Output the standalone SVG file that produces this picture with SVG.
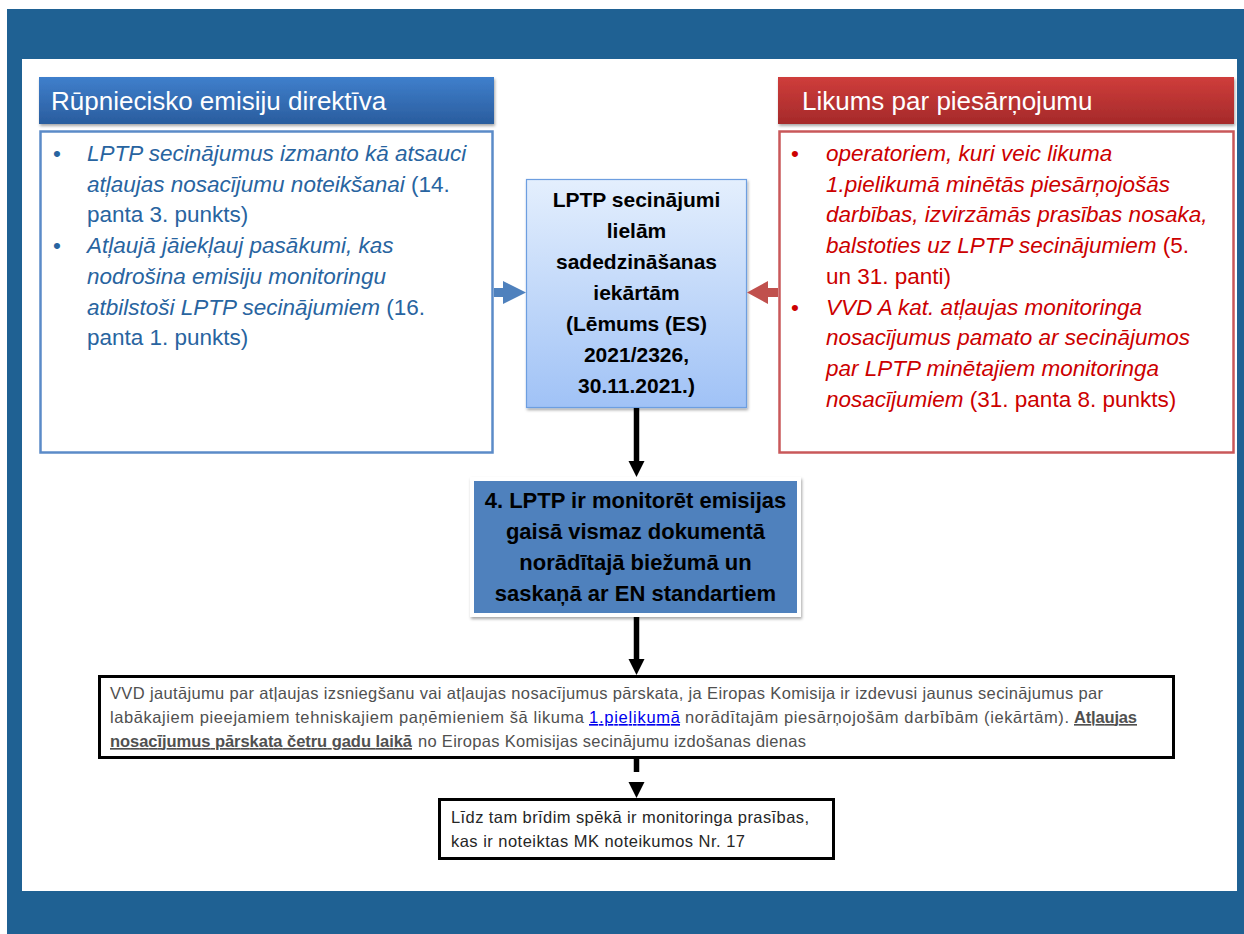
<svg xmlns="http://www.w3.org/2000/svg" width="1244" height="934" viewBox="0 0 1244 934">
  <defs>
    <linearGradient id="gBlueHead" x1="0" y1="0" x2="0" y2="1">
      <stop offset="0" stop-color="#3f7fcc"/>
      <stop offset="1" stop-color="#2a5d9e"/>
    </linearGradient>
    <linearGradient id="gRedHead" x1="0" y1="0" x2="0" y2="1">
      <stop offset="0" stop-color="#cf3d3b"/>
      <stop offset="1" stop-color="#a52a2a"/>
    </linearGradient>
    <linearGradient id="gCenter" x1="0" y1="0" x2="0" y2="1">
      <stop offset="0" stop-color="#e4effd"/>
      <stop offset="1" stop-color="#a0c2f6"/>
    </linearGradient>
    <filter id="shadow" x="-5%" y="-10%" width="110%" height="130%">
      <feDropShadow dx="1" dy="2" stdDeviation="1.5" flood-color="#000" flood-opacity="0.35"/>
    </filter>
  </defs>
  <style>
    .sans { font-family: "Liberation Sans", Arial, sans-serif; }
    .head { font-family: "Liberation Sans", Arial, sans-serif; font-size: 26px; fill: #ffffff; }
    .lbody { font-family: "Liberation Sans", Arial, sans-serif; font-size: 22.5px; fill: #2864a0; }
    .rbody { font-family: "Liberation Sans", Arial, sans-serif; font-size: 22.5px; fill: #cc0000; }
    .it { font-style: italic; }
    .ctr { font-family: "Liberation Sans", Arial, sans-serif; font-weight: bold; fill: #000000; text-anchor: middle; }
    .small { font-family: "Liberation Sans", Arial, sans-serif; font-size: 16.5px; fill: #505050; }
    .small6 { font-family: "Liberation Sans", Arial, sans-serif; font-size: 16.5px; fill: #262626; }
    .conn { stroke: #000000; stroke-width: 5.5; fill: none; }
  </style>

  <!-- frame -->
  <rect x="7" y="9" width="1237" height="925" fill="#1f6193"/>
  <rect x="22" y="59" width="1215" height="832" fill="#ffffff"/>

  <!-- left column -->
  <g id="node-ied">
    <rect x="39" y="77" width="455" height="47" fill="url(#gBlueHead)" filter="url(#shadow)"/>
    <text class="head" x="51" y="110">Rūpniecisko emisiju direktīva</text>
    <rect x="40.5" y="131.5" width="452" height="321" fill="#ffffff" stroke="#5b8bc8" stroke-width="2.5"/>
    <text class="lbody" x="53" y="161">•</text>
    <text class="lbody it" x="87" y="161">LPTP secinājumus izmanto kā atsauci</text>
    <text class="lbody" x="87" y="192"><tspan class="it">atļaujas nosacījumu noteikšanai</tspan> (14.</text>
    <text class="lbody" x="87" y="222">panta 3. punkts)</text>
    <text class="lbody" x="53" y="253">•</text>
    <text class="lbody it" x="87" y="253">Atļaujā jāiekļauj pasākumi, kas</text>
    <text class="lbody it" x="87" y="284">nodrošina emisiju monitoringu</text>
    <text class="lbody" x="87" y="315"><tspan class="it">atbilstoši LPTP secinājumiem</tspan> (16.</text>
    <text class="lbody" x="87" y="345">panta 1. punkts)</text>
  </g>

  <!-- right column -->
  <g id="node-law">
    <rect x="778" y="77" width="456" height="47" fill="url(#gRedHead)" filter="url(#shadow)"/>
    <text class="head" x="802" y="110">Likums par piesārņojumu</text>
    <rect x="779.5" y="131.5" width="454" height="321" fill="#ffffff" stroke="#c9585a" stroke-width="2.5"/>
    <text class="rbody" x="791" y="161">•</text>
    <text class="rbody it" x="826" y="161">operatoriem, kuri veic likuma</text>
    <text class="rbody it" x="826" y="192">1.pielikumā minētās piesārņojošās</text>
    <text class="rbody it" x="826" y="222">darbības, izvirzāmās prasības nosaka,</text>
    <text class="rbody" x="826" y="253"><tspan class="it">balstoties uz LPTP secinājumiem</tspan> (5.</text>
    <text class="rbody" x="826" y="284">un 31. panti)</text>
    <text class="rbody" x="791" y="315">•</text>
    <text class="rbody it" x="826" y="315">VVD A kat. atļaujas monitoringa</text>
    <text class="rbody it" x="826" y="345">nosacījumus pamato ar secinājumos</text>
    <text class="rbody it" x="826" y="376">par LPTP minētajiem monitoringa</text>
    <text class="rbody" x="826" y="407"><tspan class="it">nosacījumiem</tspan> (31. panta 8. punkts)</text>
  </g>

  <!-- centre -->
  <g id="node-bat">
    <rect x="526.5" y="179.5" width="220" height="228" fill="url(#gCenter)" stroke="#6d9ee0" stroke-width="1.2" filter="url(#shadow)"/>
    <text class="ctr" font-size="21" x="636.5" y="207">LPTP secinājumi</text>
    <text class="ctr" font-size="21" x="636.5" y="238">lielām</text>
    <text class="ctr" font-size="21" x="636.5" y="269">sadedzināšanas</text>
    <text class="ctr" font-size="21" x="636.5" y="300">iekārtām</text>
    <text class="ctr" font-size="21" x="636.5" y="331">(Lēmums (ES)</text>
    <text class="ctr" font-size="21" x="636.5" y="362">2021/2326,</text>
    <text class="ctr" font-size="21" x="636.5" y="393">30.11.2021.)</text>
  </g>

  <g id="node-monitor">
    <rect x="470" y="477" width="331" height="140" fill="#ffffff" filter="url(#shadow)"/>
    <rect x="474" y="481" width="323" height="132" fill="#4f81bd"/>
    <text class="ctr" font-size="22" x="635.5" y="508">4. LPTP ir monitorēt emisijas</text>
    <text class="ctr" font-size="22" x="635.5" y="539">gaisā vismaz dokumentā</text>
    <text class="ctr" font-size="22" x="635.5" y="570">norādītajā biežumā un</text>
    <text class="ctr" font-size="22" x="635.5" y="601">saskaņā ar EN standartiem</text>
  </g>

  <g id="node-vvd">
    <rect x="99.5" y="676.5" width="1074" height="81" fill="#ffffff" stroke="#000000" stroke-width="3"/>
    <text class="small" x="110" y="699" textLength="993">VVD jautājumu par atļaujas izsniegšanu vai atļaujas nosacījumus pārskata, ja Eiropas Komisija ir izdevusi jaunus secinājumus par</text>
    <text class="small" x="110" y="723" textLength="474">labākajiem pieejamiem tehniskajiem paņēmieniem šā likuma</text>
    <text class="small" x="589" y="723" textLength="91" fill="#0000ee" style="fill:#0000ee" text-decoration="underline">1.pielikumā</text>
    <text class="small" x="685" y="723" textLength="384">norādītajām piesārņojošām darbībām (iekārtām).</text>
    <text class="small" x="1074" y="723" textLength="63" font-weight="bold" text-decoration="underline">Atļaujas</text>
    <text class="small" x="110" y="747" textLength="302" font-weight="bold" text-decoration="underline">nosacījumus pārskata četru gadu laikā</text>
    <text class="small" x="418" y="747" textLength="388">no Eiropas Komisijas secinājumu izdošanas dienas</text>
  </g>

  <g id="node-until">
    <rect x="439.5" y="799.5" width="394" height="59" fill="#ffffff" stroke="#000000" stroke-width="3"/>
    <text class="small6" x="451" y="823" textLength="358">Līdz tam brīdim spēkā ir monitoringa prasības,</text>
    <text class="small6" x="451" y="847" textLength="294">kas ir noteiktas MK noteikumos Nr. 17</text>
  </g>

  <!-- connectors -->
  <g id="connectors">
    <polygon points="494,288 503,288 503,281 526,292.5 503,304 503,297 494,297" fill="#4f81bd"/>
    <polygon points="778,288 768,288 768,281 747,292.5 768,304 768,297 778,297" fill="#c0504d"/>
    <line class="conn" x1="636.5" y1="408" x2="636.5" y2="463"/>
    <polygon points="628.5,461 644.5,461 636.5,477" fill="#000000"/>
    <line class="conn" x1="636.5" y1="617" x2="636.5" y2="661"/>
    <polygon points="628.5,659 644.5,659 636.5,675" fill="#000000"/>
    <line class="conn" x1="636.5" y1="758" x2="636.5" y2="772"/>
    <polygon points="628.5,782 644.5,782 636.5,798" fill="#000000"/>
  </g>
</svg>
